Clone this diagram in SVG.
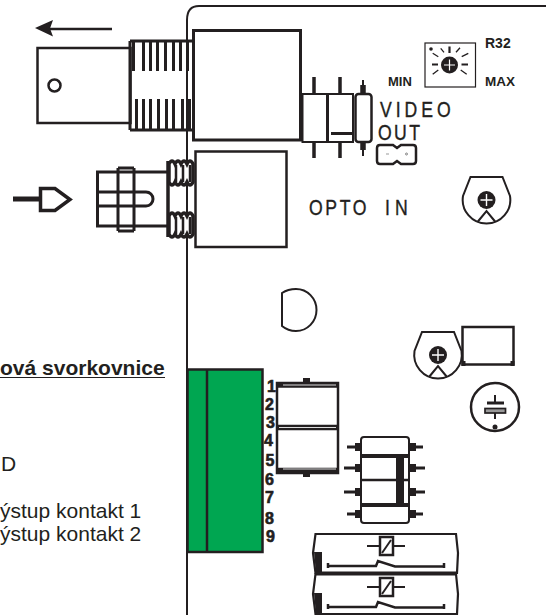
<svg xmlns="http://www.w3.org/2000/svg" width="546" height="615" viewBox="0 0 546 615">
<defs>
<style>
.l{fill:none;stroke:#231f20;stroke-width:2}
.m{fill:none;stroke:#231f20;stroke-width:3}
.k{fill:#231f20}
.t{font-family:"Liberation Sans",Arial,sans-serif;fill:#231f20}
.b{font-weight:bold}
.s{font-family:"Liberation Sans",Arial,sans-serif;font-size:22px;fill:#231f20;stroke:#231f20;stroke-width:.4}
.n{font-family:"Liberation Sans",Arial,sans-serif;font-weight:bold;font-size:16px;fill:#231f20;stroke:#231f20;stroke-width:.6}
</style>
<g id="trim">
<path class="l" d="M-16,-23H16L23.500,-4A23.800,23.800 0 1 1 -23.500,-4Z" fill="#fff"/>
<circle r="9" class="k"/>
<path d="M-6,0H6M0,-6V6" stroke="#fff" stroke-width="1.400"/>
<path class="l" d="M-9,22L0,11L9,22"/>
</g>
</defs>
<rect width="546" height="615" fill="#fff"/>
<g id="connectors"><path id="board" class="l" d="M187,615V20Q187,6 199,6H546"/></g>

<g id="arrow-out"><path d="M112,29H50" stroke="#231f20" stroke-width="2.500"/><path class="k" d="M35,28L53,20L50,28.500L53,36.500Z"/></g>

<g id="bnc">
<rect x="37.500" y="48" width="93" height="75" fill="#fff" stroke="#231f20" stroke-width="2.500"/>
<circle cx="54.500" cy="85.500" r="6" fill="#fff" stroke="#231f20" stroke-width="2.500"/>
<path class="m" fill="#fff" d="M130,41H194M130,130H194M130,41V130"/>
<path stroke="#231f20" stroke-width="3" fill="none" d="M133.500,41V71M143.500,41V71M150.500,41V71M157.500,41V71M165.500,41V71M173.500,41V71M180.500,41V71M187.500,41V71M136.500,99V130M143.500,99V130M150.500,99V130M158.500,99V130M166.500,99V130M173.500,99V130M182.500,99V130M189.500,99V130"/>
</g>
<g id="bnc-body"><rect x="193.500" y="30.500" width="107" height="109.500" fill="#fff" stroke="#231f20" stroke-width="3"/></g>

<g id="arrow-in"><path d="M13,199H39" stroke="#231f20" stroke-width="5"/><path fill="#fff" stroke="#231f20" stroke-width="3.500" d="M40.500,188.500H55L70,199.500L55,210.500H40.500Z"/></g>

<g id="opto-plug">
<path class="m" d="M168,172H97.500V226H168M97.500,192H146A7,7 0 0 1 146,206H97.500M118,168V231M134,168V231M118,168H134M118,231H134"/>
<path stroke="#231f20" stroke-width="3.500" d="M168,161V237"/>
<path fill="#fff" stroke="#231f20" stroke-width="3.500" d="M169,164q3,-6 6,0q3,-6 6,0q3,-6 6,0q3,-6 6,0V182q-3,6 -6,0q-3,6 -6,0q-3,6 -6,0q-3,6 -6,0ZM169,216q3,-6 6,0q3,-6 6,0q3,-6 6,0q3,-6 6,0V234q-3,6 -6,0q-3,6 -6,0q-3,6 -6,0q-3,6 -6,0Z"/>
<path stroke="#231f20" stroke-width="2.500" d="M176,165V182M183,165V182M190,165V182M176,217V234M183,217V234M190,217V234"/>
</g>
<g id="opto-body"><rect x="195.500" y="151.500" width="91" height="95.500" fill="#fff" stroke="#231f20" stroke-width="2.500"/></g>

<g id="trim-r32">
<rect x="425" y="43" width="50.500" height="44" fill="#fff" stroke="#231f20" stroke-width="1.200"/>
<circle cx="449.500" cy="65" r="8.500" class="k"/><path d="M444,65H455M449.500,59.500V70.500" stroke="#fff" stroke-width="1.200"/>
<path stroke="#231f20" stroke-width="2.200" d="M432,64.500H438M461.500,64.500H468M449.500,46.500V53"/>
<path stroke="#231f20" stroke-width="1.300" d="M440.700,48.300L444,52.300M460,47.700L456,52.300M432.700,53.300L438.300,56.700M468.300,53.300L461.700,56.700M432.700,74.300L438.300,70M466.700,74.300L460.700,70"/>
<circle cx="431" cy="49" r="1.800" class="k"/>
<text class="t b" x="485" y="48" font-size="14">R32</text>
<text class="t b" x="388" y="86" font-size="13">MIN</text>
<text class="t b" x="485" y="86" font-size="13.500">MAX</text>
</g>

<g id="small-parts">
<path stroke="#231f20" stroke-width="3.500" d="M314,77V94M314,142V158M340,77V94M340,142V158"/>
<path stroke="#231f20" stroke-width="2" d="M363,80V156"/><path stroke="#231f20" stroke-width="5.500" d="M363,85V94M363,140V150"/>
<rect x="302.500" y="94" width="25" height="48" fill="#fff" stroke="#231f20" stroke-width="2"/>
<rect x="327.500" y="94" width="25.500" height="48" fill="#fff" stroke="#231f20" stroke-width="2"/>
<path stroke="#231f20" stroke-width="3" d="M327.500,94V142"/>
<path stroke="#231f20" stroke-width="3" d="M331,133.500H352"/>
<rect x="355.500" y="94" width="16" height="48" rx="3" fill="#fff" stroke="#231f20" stroke-width="2.500"/>
</g>

<g id="video-out">
<text class="s" transform="translate(380,117) scale(.8,1)" letter-spacing="5">VIDEO</text>
<text class="s" transform="translate(378,140) scale(.8,1)" letter-spacing="3">OUT</text>
<path fill="none" stroke="#231f20" stroke-width="2.500" d="M380,145H393L397,148L401,145H413Q416,145 416,148V161Q416,164 413,164H401L397,161L393,164H380Q377,164 377,161V148Q377,145 380,145Z"/>
<path stroke="#999" stroke-width="1" d="M386,154H389"/><circle cx="406.500" cy="154" r="1" fill="none" stroke="#555" stroke-width=".7"/>
</g>
<g id="opto-in"><text class="s" transform="translate(309,215) scale(.8,1)" letter-spacing="3.300">OPTO<tspan x="95" letter-spacing="6.500">IN</tspan></text></g>

<use id="trim-a" href="#trim" x="486.500" y="200"/>

<g id="d-part"><path class="l" d="M282,293Q288,289 296,289A20.500,21 0 0 1 296,331Q288,331 282,326Z"/></g>

<use id="trim-b" href="#trim" x="438" y="355"/>
<g id="rect-c"><rect x="462.500" y="327" width="51" height="37.500" fill="#fff" stroke="#231f20" stroke-width="2.500"/><path stroke="#231f20" stroke-width="4" d="M463.500,361V366M512.500,361V366"/></g>

<g id="cap">
<circle cx="495" cy="407" r="24" fill="#fff" stroke="#231f20" stroke-width="2.500"/>
<path stroke="#231f20" stroke-width="2" d="M495,395V403M495,413V419"/><path stroke="#231f20" stroke-width="3" d="M487,403H504"/>
<rect x="485" y="408.500" width="20.500" height="4.500" fill="#999" stroke="#231f20" stroke-width="1.700"/><circle cx="495" cy="427" r="2.500" class="k"/>
</g>

<g id="terminal">
<rect x="187.500" y="369.500" width="75" height="182.500" fill="#00a651" stroke="#231f20" stroke-width="2.500"/>
<path stroke="#231f20" stroke-width="2.500" d="M207,369V552"/>
<text class="n" x="267" y="392">1</text><text class="n" x="265" y="410">2</text><text class="n" x="266" y="428">3</text><text class="n" x="264" y="446">4</text><text class="n" x="265.500" y="466">5</text><text class="n" x="265" y="485">6</text><text class="n" x="265" y="503">7</text><text class="n" x="265" y="524">8</text><text class="n" x="266" y="542">9</text>
</g>

<g id="block">
<rect x="277" y="383" width="61" height="90" fill="#fff" stroke="#231f20" stroke-width="2.500"/>
<path stroke="#231f20" stroke-width="5.500" d="M277,385H339M277,427.500H339M277,470.500H339"/>
<path stroke="#ddd" stroke-width="1" d="M283,385H336M279,427.500H336M283,469H336"/>
<path stroke="#231f20" stroke-width="4" d="M303,380H310M303,475H310"/>
</g>

<g id="optocoupler">
<path stroke="#231f20" stroke-width="3" d="M347,447H361M409,447H423M344,468H361M409,468H425M344,492H361M409,492H425M347,514H361M409,514H423"/>
<path stroke="#231f20" stroke-width="8" d="M355,447H361M409,447H416M355,468H361M409,468H416M355,492H361M409,492H416M355,514H361M409,514H416"/>
<rect x="361" y="437" width="48" height="86" rx="3" fill="#fff" stroke="#231f20" stroke-width="2"/>
<path stroke="#231f20" stroke-width="4" d="M361,456H409M361,505H409"/><path stroke="#231f20" stroke-width="8" d="M400,456V505"/><path stroke="#231f20" stroke-width="2.500" d="M361,480H409"/>
</g>

<g id="relay-1">
<path fill="#fff" stroke="#231f20" stroke-width="2.200" d="M315.500,534H456L458,553L457,573H315.500L313,553Z"/>
<path class="k" d="M314,552H322V573H316Z"/>
<path stroke="#231f20" stroke-width="2" d="M367,546H405"/><rect x="380" y="537" width="13" height="18" fill="#fff" stroke="#231f20" stroke-width="2.500"/><path stroke="#231f20" stroke-width="2" d="M382,553L391,540"/>
<path fill="none" stroke="#231f20" stroke-width="2.500" d="M328,566H376L378,561L395,566.500H444M328,563V568M444,563V568"/>
</g>
<g id="relay-2">
<path fill="#fff" stroke="#231f20" stroke-width="2.200" d="M315.500,574H456L458,594L457,614H315.500L313,594Z"/>
<path class="k" d="M314,593H322V614H316Z"/>
<path stroke="#231f20" stroke-width="2" d="M367,587H405"/><rect x="380" y="578" width="13" height="18" fill="#fff" stroke="#231f20" stroke-width="2.500"/><path stroke="#231f20" stroke-width="2" d="M382,594L391,581"/>
<path fill="none" stroke="#231f20" stroke-width="2.500" d="M328,607H376L378,602L395,607.500H444M328,604V609M444,604V609"/>
<path stroke="#231f20" stroke-width="4" d="M315,573.500H457"/>
</g>

<g id="legend">
<text class="t b" x="0" y="375" font-size="21">ová svorkovnice</text>
<path stroke="#231f20" stroke-width="1.200" d="M0,377.500H165"/>
<text class="t" x="1" y="471" font-size="21">D</text>
<text class="t" x="0" y="518" font-size="21">ýstup kontakt 1</text>
<text class="t" x="0" y="541" font-size="21">ýstup kontakt 2</text>
</g>
</svg>
